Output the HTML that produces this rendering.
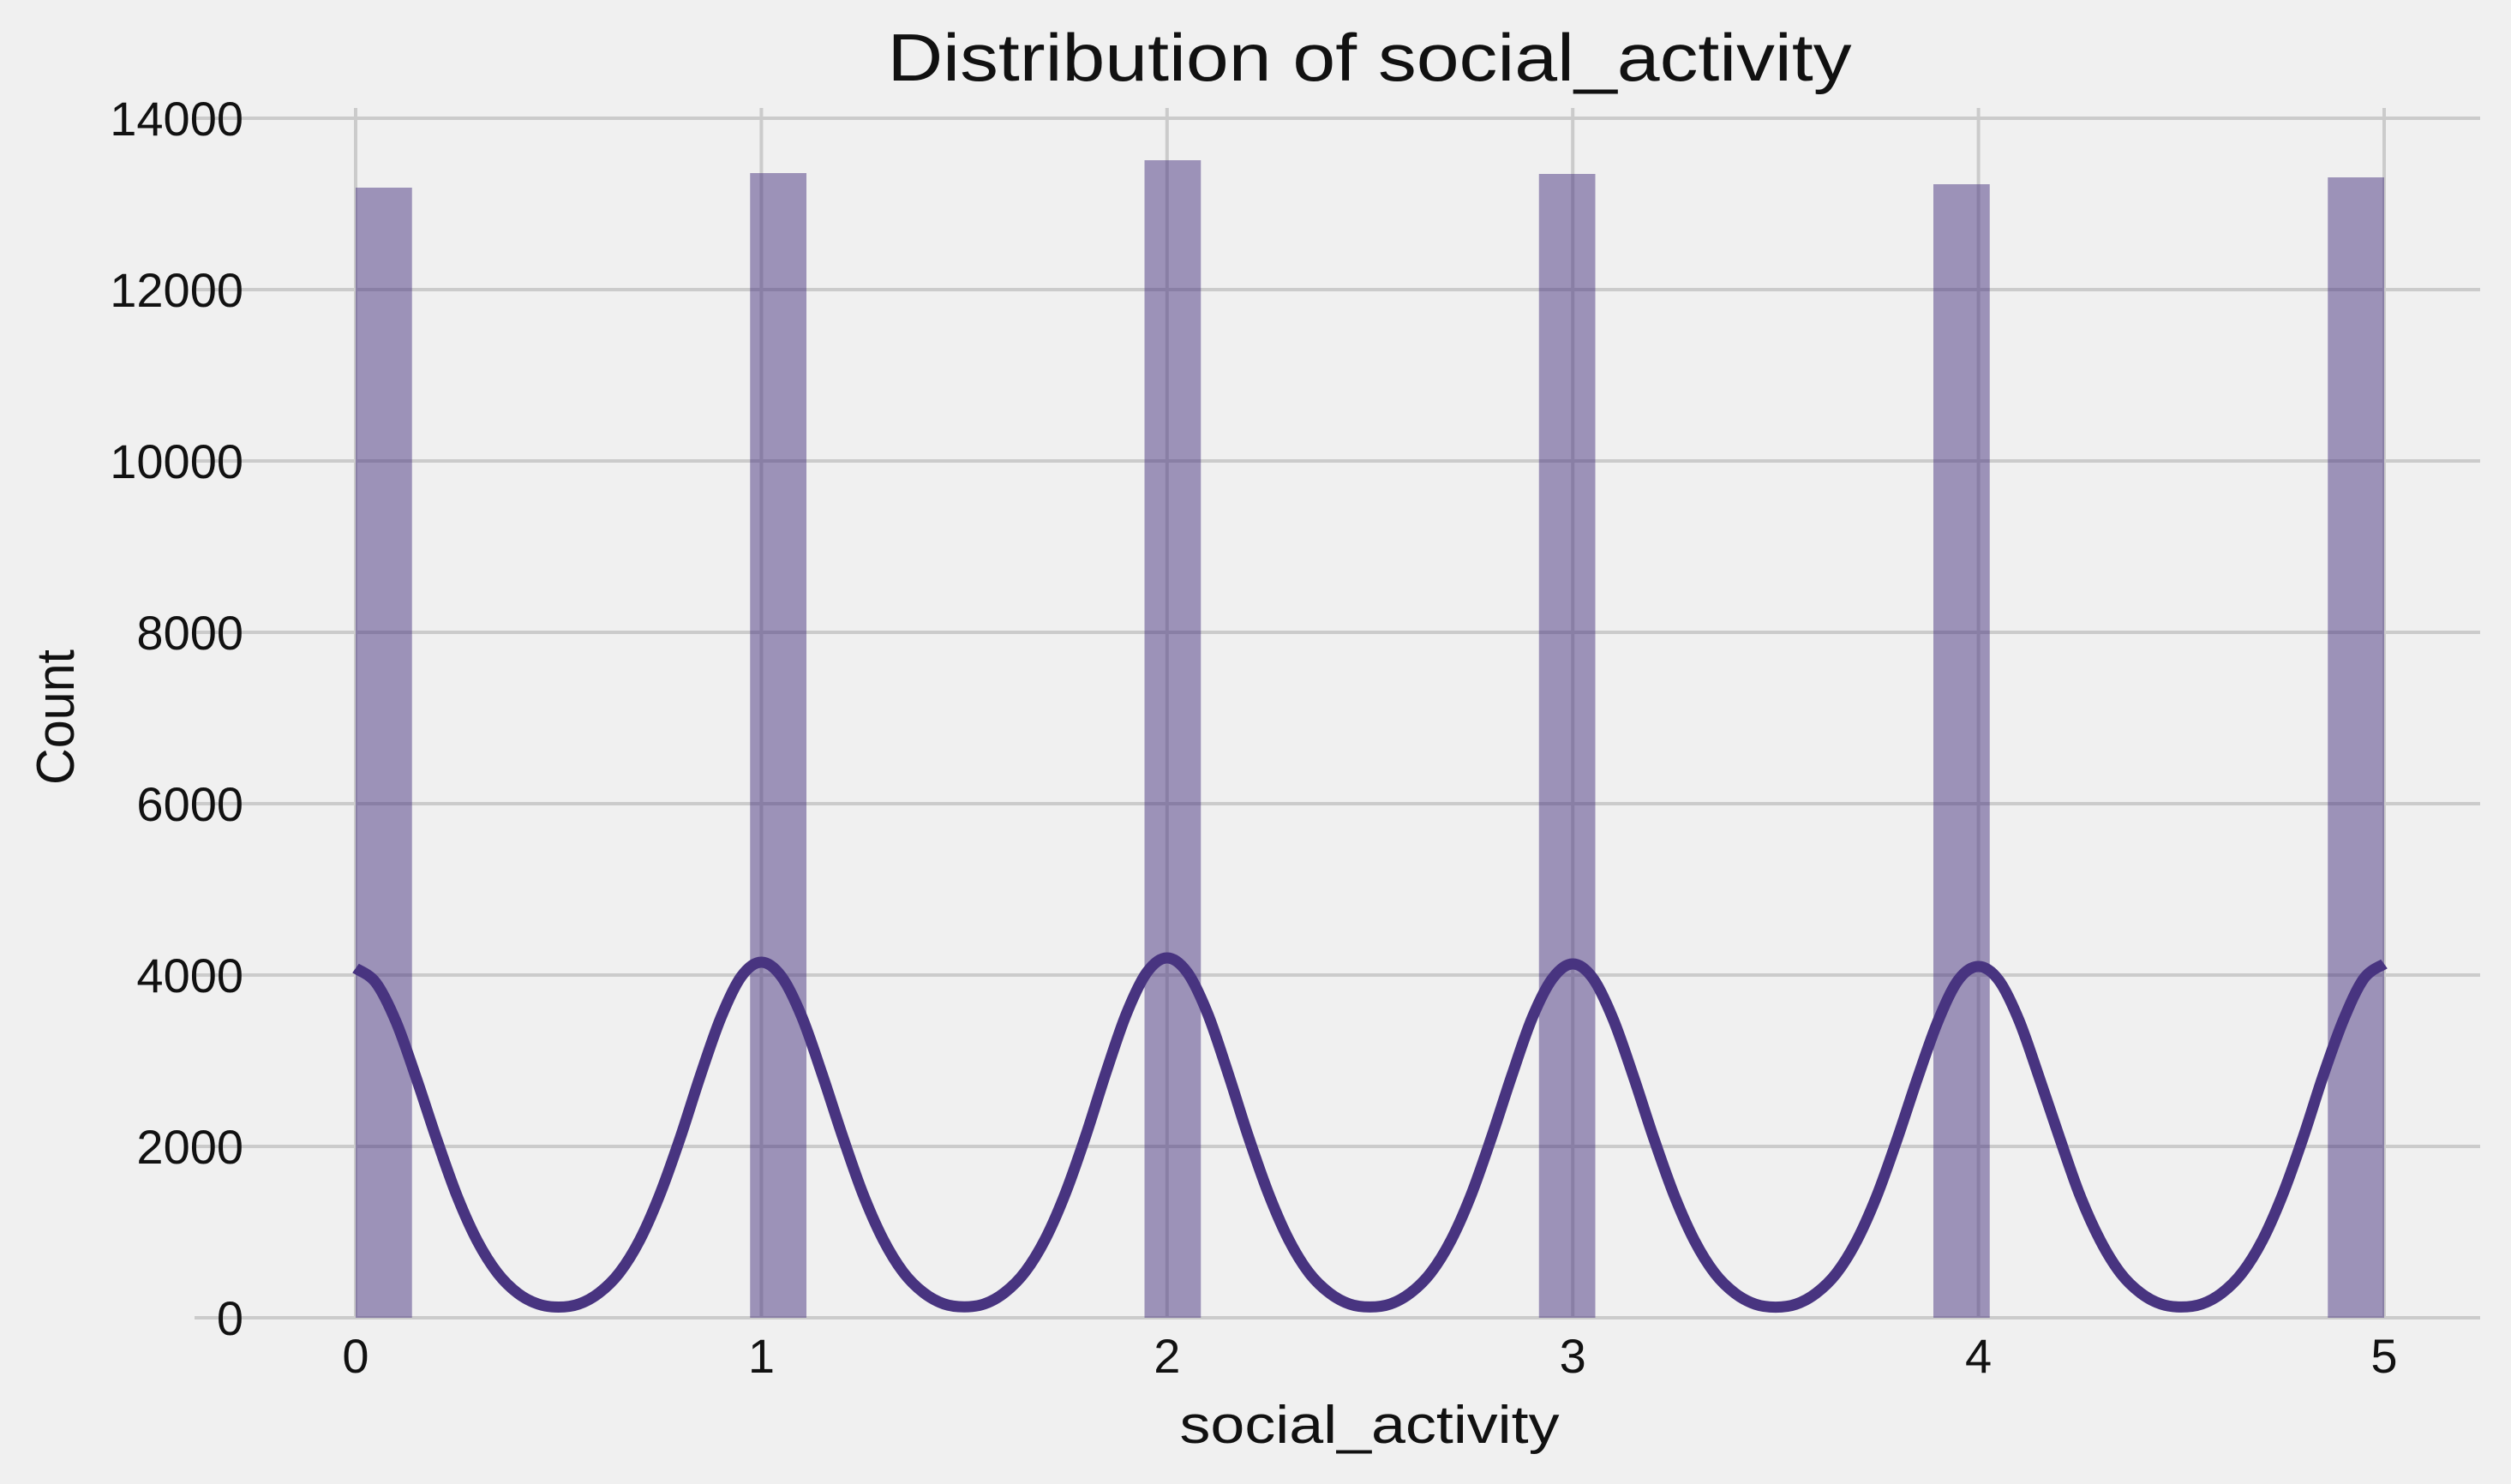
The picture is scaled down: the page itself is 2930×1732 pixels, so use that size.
<!DOCTYPE html>
<html><head><meta charset="utf-8"><style>
html,body{margin:0;padding:0;background:#f0f0f0;}
svg{display:block;font-family:"Liberation Sans","DejaVu Sans",sans-serif;}
</style></head><body>
<svg id="chart" width="2930" height="1732" viewBox="0 0 2930 1732" xmlns="http://www.w3.org/2000/svg">
<rect x="0" y="0" width="2930" height="1732" fill="#f0f0f0"/>
<g id="grid"></g>
<g id="bars"></g>
<g id="kde"></g>
<g id="ticks"></g>
<text x="1598" y="94" font-size="78" text-anchor="middle" textLength="1125" lengthAdjust="spacingAndGlyphs" fill="#111">Distribution of social_activity</text>
<text x="1598" y="1684" font-size="62" text-anchor="middle" textLength="443" lengthAdjust="spacingAndGlyphs" fill="#111">social_activity</text>
<text transform="translate(86,837) rotate(-90)" x="0" y="0" font-size="62" text-anchor="middle" textLength="158" lengthAdjust="spacingAndGlyphs" fill="#111">Count</text>
</svg>
<script>
const binStarts = [0, 7, 14, 21, 28, 35];
const binCounts = [13190, 13360, 13510, 13350, 13230, 13310];
const numBins = 36;
const xTicks = [0, 1, 2, 3, 4, 5];
const xTickLabels = ["0", "1", "2", "3", "4", "5"];
const yTicks = [0, 2000, 4000, 6000, 8000, 10000, 12000, 14000];
const yTickLabels = ["0", "2000", "4000", "6000", "8000", "10000", "12000", "14000"];
const kdeX = [0,0.05,0.1,0.15,0.2,0.25,0.3,0.35,0.4,0.45,0.5,0.55,0.6,0.65,0.7,0.75,0.8,0.85,0.9,0.95,1,1.05,1.1,1.15,1.2,1.25,1.3,1.35,1.4,1.45,1.5,1.55,1.6,1.65,1.7,1.75,1.8,1.85,1.9,1.95,2,2.05,2.1,2.15,2.2,2.25,2.3,2.35,2.4,2.45,2.5,2.55,2.6,2.65,2.7,2.75,2.8,2.85,2.9,2.95,3,3.05,3.1,3.15,3.2,3.25,3.3,3.35,3.4,3.45,3.5,3.55,3.6,3.65,3.7,3.75,3.8,3.85,3.9,3.95,4,4.05,4.1,4.15,4.2,4.25,4.3,4.35,4.4,4.45,4.5,4.55,4.6,4.65,4.7,4.75,4.8,4.85,4.9,4.95,5];
const kdeY = [4080,3910,3450,2790,2080,1420,895,520,285,160,125,160,290,525,905,1440,2100,2830,3500,3980,4150,3980,3510,2840,2120,1450,915,530,292,162,128,162,295,535,920,1460,2130,2870,3550,4030,4200,4030,3550,2860,2120,1450,910,525,290,160,126,160,290,525,905,1440,2110,2830,3500,3960,4130,3960,3480,2810,2090,1430,900,520,286,158,124,158,287,520,900,1430,2090,2800,3460,3940,4100,3940,3470,2800,2100,1430,905,522,288,160,126,160,289,525,905,1440,2100,2830,3480,3960,4130];

const NS = "http://www.w3.org/2000/svg";
const X0 = 415, XU = 473.4;
const Y0 = 1538, YS = 0.1;
function xs(v){ return X0 + v * XU; }
function ys(v){ return Y0 - v * YS; }
function mk(tag, attrs, parent){ const e = document.createElementNS(NS, tag); for (const k in attrs) e.setAttribute(k, attrs[k]); parent.appendChild(e); return e; }

const grid = document.getElementById('grid');
yTicks.forEach(function(t){
  const l = mk('line', {x1:227, x2:2894, y1:ys(t), y2:ys(t), stroke:'#cbcbcb', 'stroke-width':4}, grid);
  
  
});
xTicks.forEach(function(t){
  const l = mk('line', {x1:xs(t), x2:xs(t), y1:126, y2:Y0, stroke:'#cbcbcb', 'stroke-width':4}, grid);
  
  
});

const bars = document.getElementById('bars');
const bw = 5 / numBins;
binStarts.forEach(function(b, i){
  const x1 = xs(b * bw), x2 = xs((b + 1) * bw);
  const r = mk('rect', {x:x1, y:ys(binCounts[i]), width:x2 - x1, height:Y0 - ys(binCounts[i]), fill:'#483480', 'fill-opacity':0.5}, bars);
  
  
});

const kde = document.getElementById('kde');
const pts = kdeX.map(function(v, i){ return [xs(v), ys(kdeY[i])]; });
let d = 'M' + pts[0][0] + ',' + pts[0][1];
for (let i = 0; i < pts.length - 1; i++) {
  const p0 = pts[Math.max(i - 1, 0)], p1 = pts[i], p2 = pts[i + 1], p3 = pts[Math.min(i + 2, pts.length - 1)];
  const c1x = p1[0] + (p2[0] - p0[0]) / 6, c1y = p1[1] + (p2[1] - p0[1]) / 6;
  const c2x = p2[0] - (p3[0] - p1[0]) / 6, c2y = p2[1] - (p3[1] - p1[1]) / 6;
  d += ' C' + c1x + ',' + c1y + ' ' + c2x + ',' + c2y + ' ' + p2[0] + ',' + p2[1];
}
const path = mk('path', {d:d, fill:'none', stroke:'#483480', 'stroke-width':13, 'stroke-linejoin':'round'}, kde);



const ticks = document.getElementById('ticks');
yTicks.forEach(function(t, i){
  const tx = mk('text', {x:284, y:ys(t) + 20, 'font-size':56, 'text-anchor':'end', fill:'#111'}, ticks);
  tx.textContent = yTickLabels[i];
  
  
});
xTicks.forEach(function(t, i){
  const tx = mk('text', {x:xs(t), y:1602, 'font-size':56, 'text-anchor':'middle', fill:'#111'}, ticks);
  tx.textContent = xTickLabels[i];
  
  
});
</script>
</body></html>
